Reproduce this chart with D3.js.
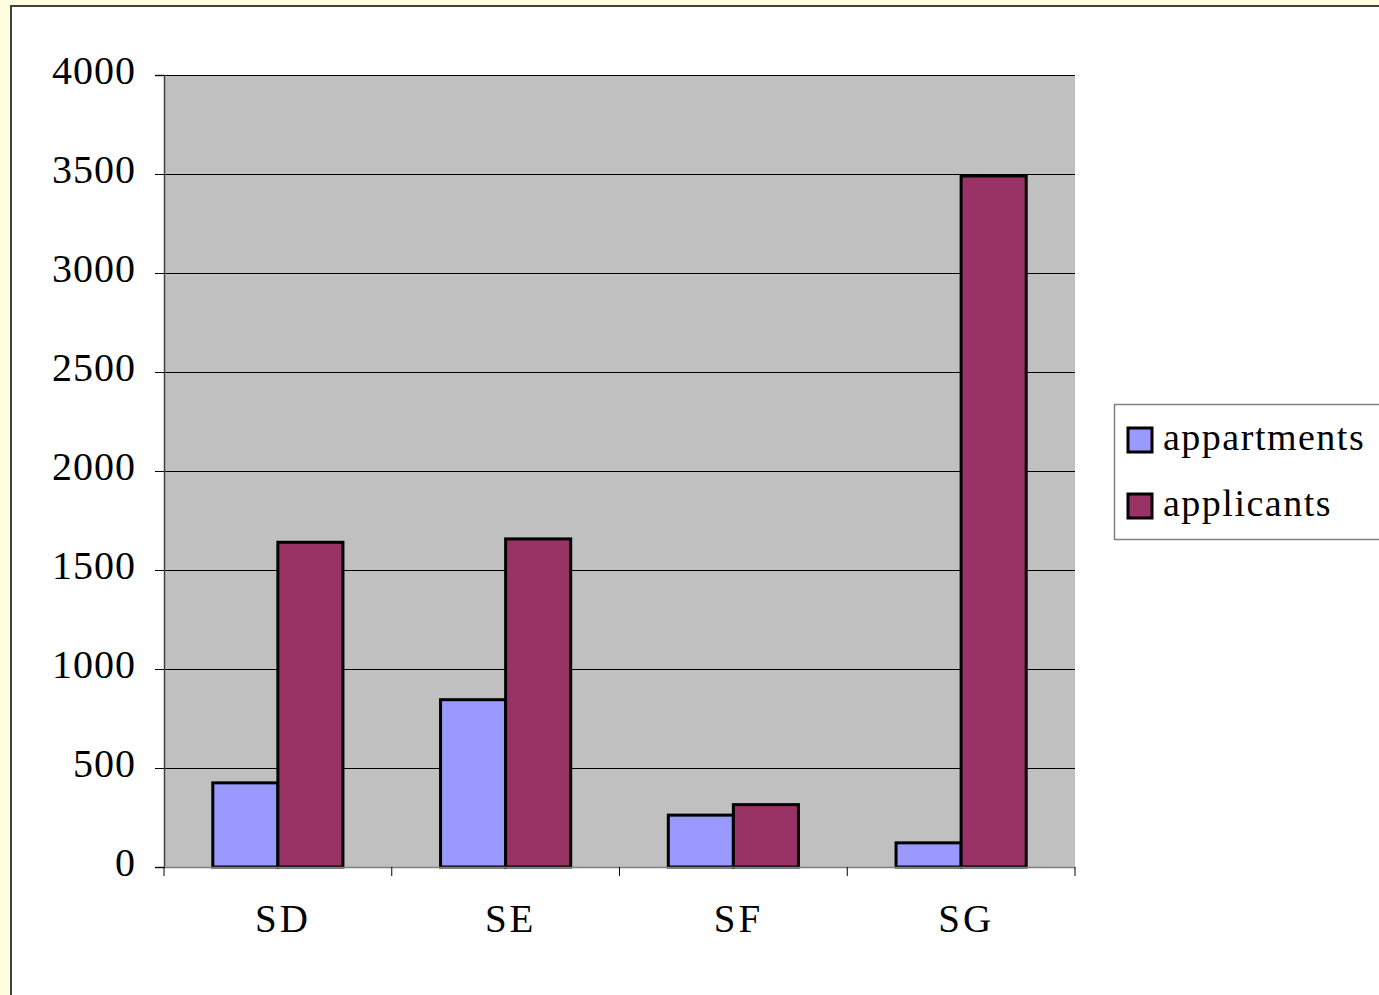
<!DOCTYPE html>
<html>
<head>
<meta charset="utf-8">
<script src="https://cdn.jsdelivr.net/npm/d3@7"></script>
<style>
  html, body { margin: 0; padding: 0; background: #FFFFE0; overflow: hidden; }
  svg { display: block; }
</style>
</head>
<body>
<svg id="chart" width="1379" height="995"></svg>
<script>
const categories = ["SD", "SE", "SF", "SG"];
const seriesNames = ["appartments", "applicants"];
const appartments = [425, 845, 262, 122];
const applicants = [1640, 1657, 315, 3490];
const yTicks = [0, 500, 1000, 1500, 2000, 2500, 3000, 3500, 4000];
const colors = ["#9999FF", "#993366"];

const svg = d3.select("#chart");
const W = 1379, H = 995;
const FONT = "'Liberation Serif', 'Times New Roman', serif";

// outer panel
svg.append("rect").attr("x", 11).attr("y", 6).attr("width", W + 20).attr("height", H + 20)
  .attr("fill", "#FFFFFF").attr("stroke", "#404040").attr("stroke-width", 2);

const plot = { left: 164, right: 1075, top: 75, bottom: 867 };

const x = d3.scaleBand().domain(categories).range([plot.left, plot.right]).paddingInner(0).paddingOuter(0);
const y = d3.scaleLinear().domain([0, 4000]).range([plot.bottom, plot.top]);

// plot background
svg.append("rect").attr("x", plot.left).attr("y", plot.top)
  .attr("width", plot.right - plot.left).attr("height", plot.bottom - plot.top)
  .attr("fill", "#C0C0C0");

// gridlines
svg.append("g").selectAll("line").data(yTicks.filter(d => d > 0)).join("line")
  .attr("x1", plot.left).attr("x2", plot.right)
  .attr("y1", d => Math.round(y(d)) + 0.5).attr("y2", d => Math.round(y(d)) + 0.5)
  .attr("stroke", "#000").attr("stroke-width", 1);

// bars
const data = categories.map((c, i) => ({ c, vals: [appartments[i], applicants[i]] }));
const bw = x.bandwidth();
const barW = bw / 3.5;
const groupOff = (bw - 2 * barW) / 2;
const xs = d3.scaleBand().domain(seriesNames).range([0, 2 * barW]);

const g = svg.append("g");
data.forEach(d => {
  d.vals.forEach((v, j) => {
    g.append("rect")
      .attr("x", x(d.c) + groupOff + xs(seriesNames[j]))
      .attr("y", y(v))
      .attr("width", xs.bandwidth())
      .attr("height", y(0) - y(v))
      .attr("fill", colors[j])
      .attr("stroke", "#000").attr("stroke-width", 3);
  });
});

// y axis
const yAxis = d3.axisLeft(y).tickValues(yTicks).tickSize(9).tickPadding(19).tickFormat(d3.format("d"));
const ya = svg.append("g").attr("transform", `translate(${plot.left},0)`).call(yAxis);
ya.select(".domain").attr("stroke", "#404040").attr("stroke-width", 1.5);
ya.selectAll(".tick line").attr("stroke", "#000");
ya.selectAll("text").attr("font-family", FONT).attr("font-size", 40).attr("fill", "#000")
  .attr("letter-spacing", 1).attr("dy", "0.22em");

// x axis
const xAxis = d3.axisBottom(x).tickSize(0).tickPadding(37);
const xa = svg.append("g").attr("transform", `translate(0,${plot.bottom})`).call(xAxis);
xa.select(".domain").attr("stroke", "#808080").attr("stroke-width", 1.5);
xa.selectAll("text").attr("font-family", FONT).attr("font-size", 39).attr("fill", "#000")
  .attr("letter-spacing", 3).attr("dx", 5);
// category boundary ticks
const bounds = categories.map(c => x(c)).concat([plot.right]);
svg.append("g").selectAll("line").data(bounds).join("line")
  .attr("x1", d => d).attr("x2", d => d)
  .attr("y1", plot.bottom).attr("y2", plot.bottom + 9)
  .attr("stroke", "#000").attr("stroke-width", 1);

// legend
const lg = svg.append("g");
lg.append("rect").attr("x", 1114.5).attr("y", 404.5).attr("width", 300).attr("height", 135)
  .attr("fill", "#fff").attr("stroke", "#808080").attr("stroke-width", 1.5);
seriesNames.forEach((s, i) => {
  const yy = 428 + i * 66;
  lg.append("rect").attr("x", 1128).attr("y", yy).attr("width", 24).attr("height", 24)
    .attr("fill", colors[i]).attr("stroke", "#000").attr("stroke-width", 3);
  lg.append("text").attr("x", 1163).attr("y", yy + 22).text(s)
    .attr("font-family", FONT).attr("font-size", 38).attr("letter-spacing", 1.5).attr("fill", "#000");
});
</script>
</body>
</html>
